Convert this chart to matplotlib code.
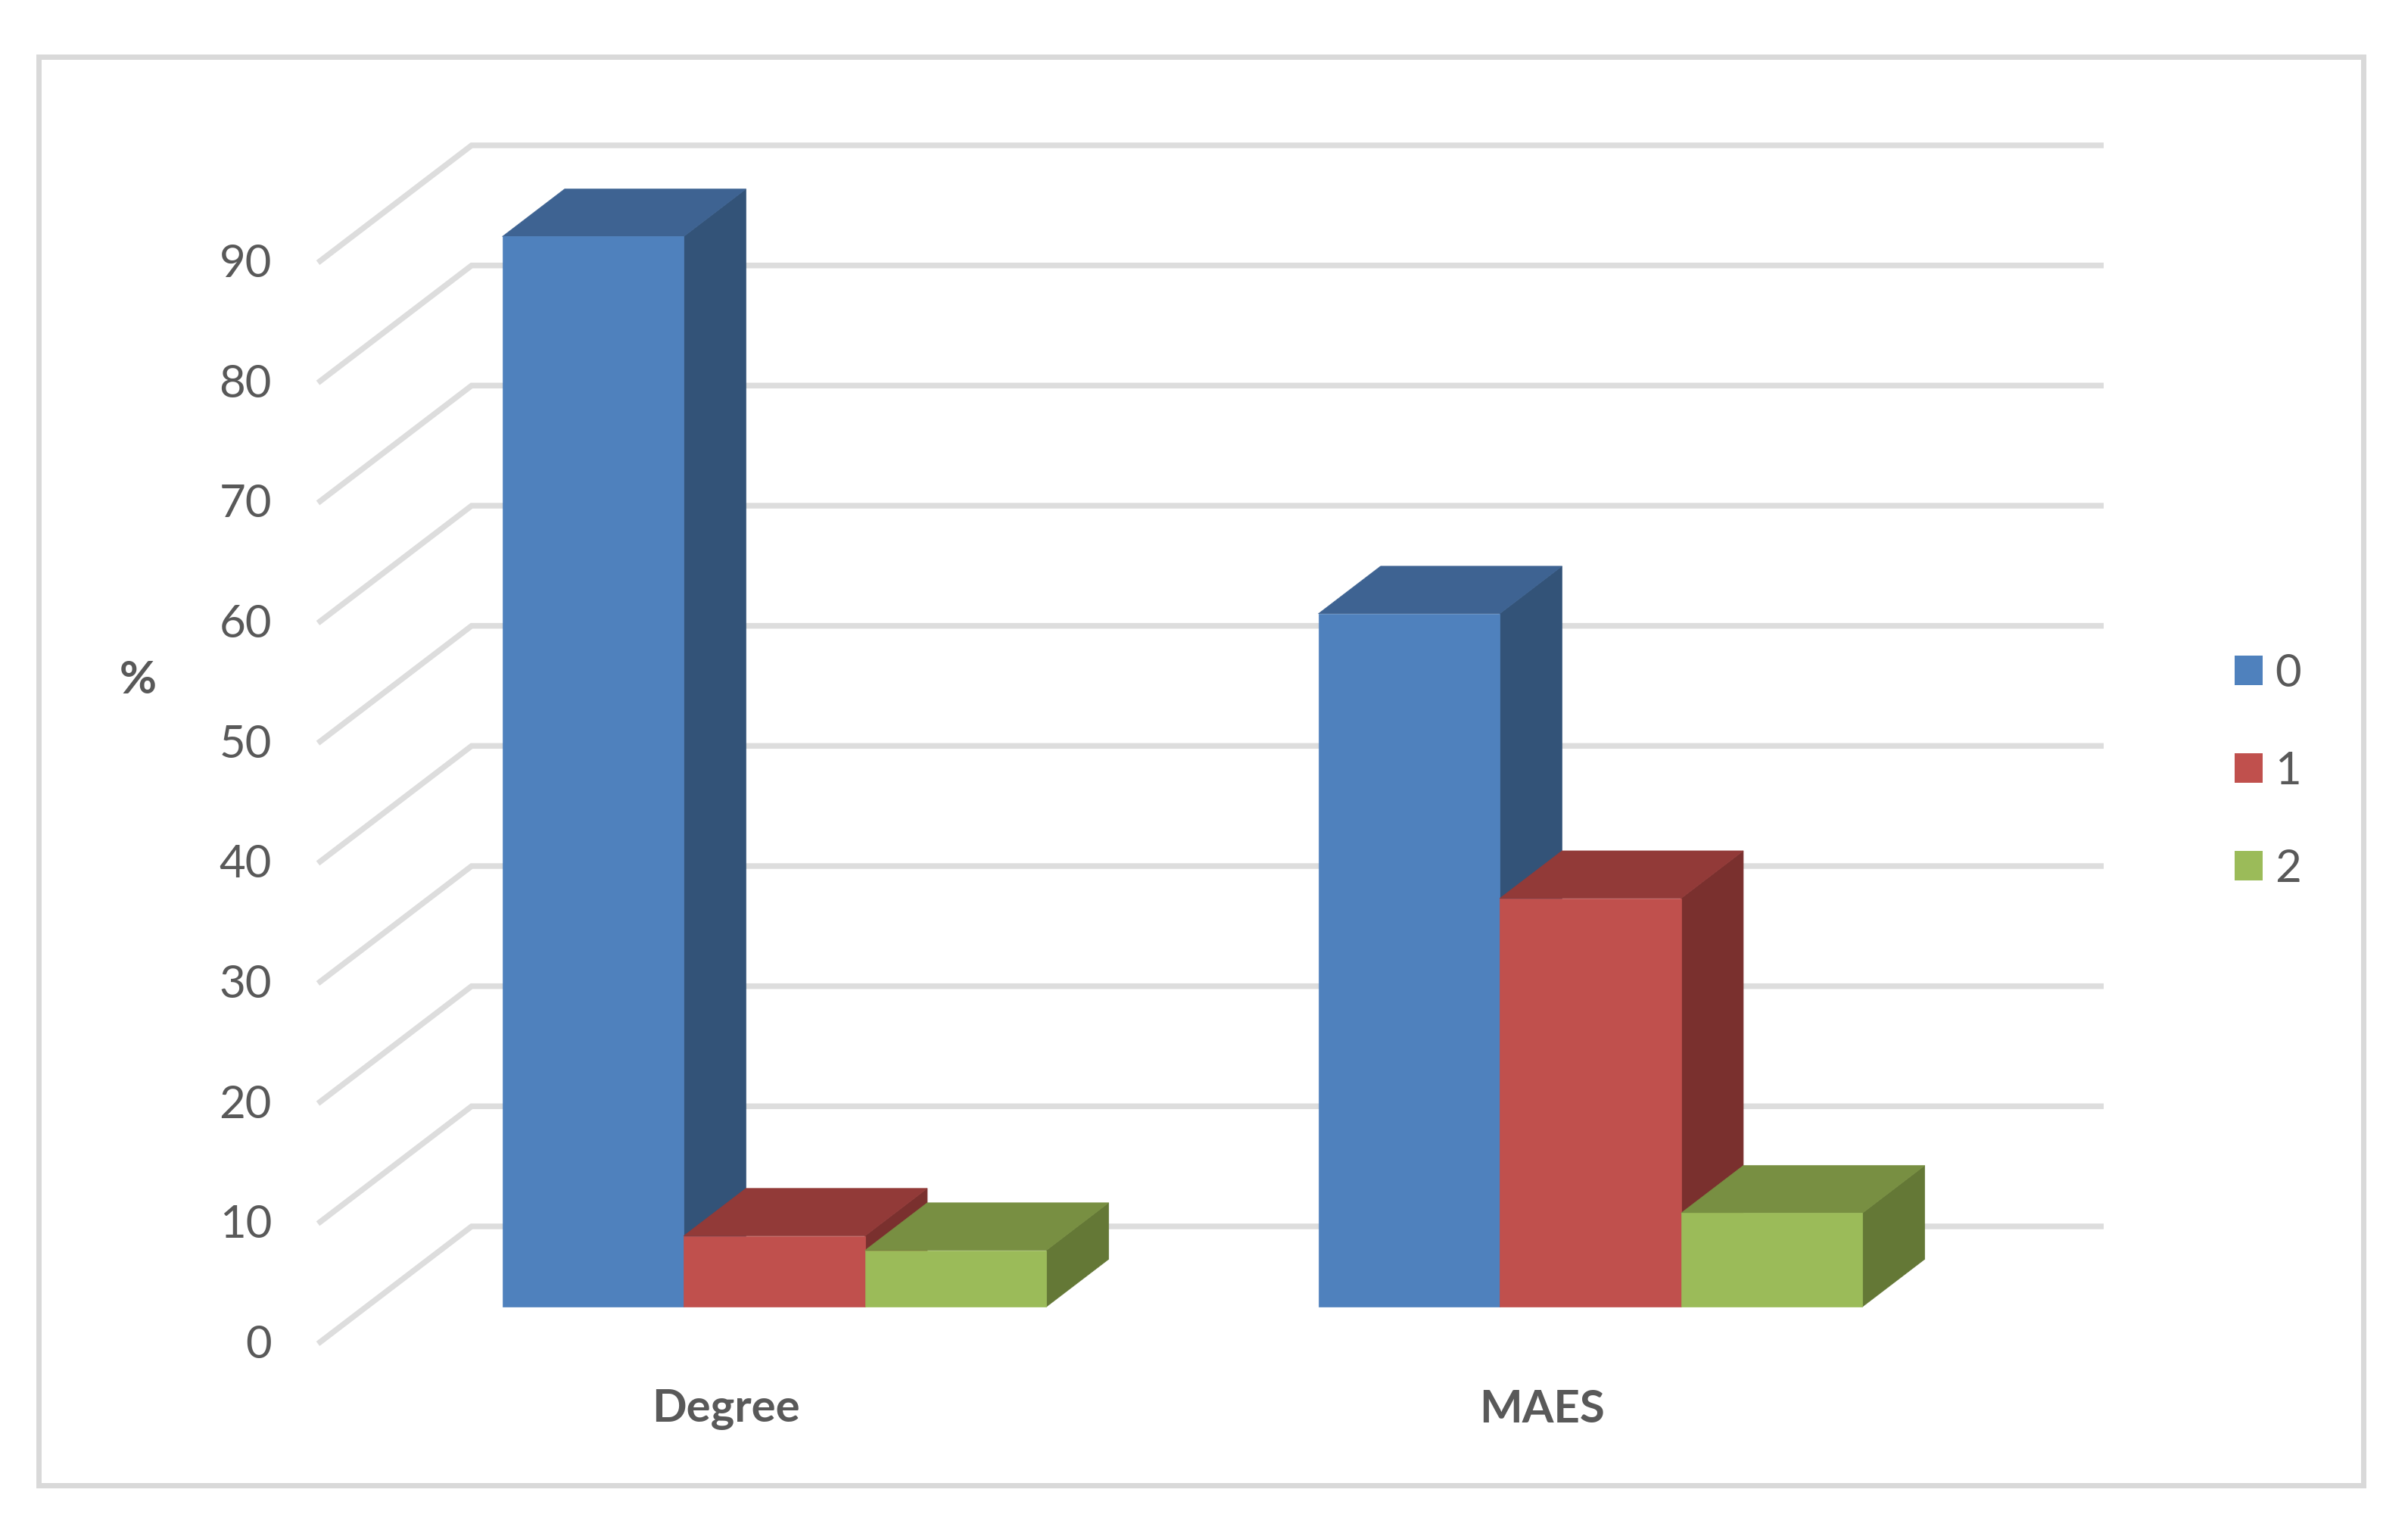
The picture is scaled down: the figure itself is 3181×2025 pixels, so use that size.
import matplotlib
matplotlib.use("Agg")
import matplotlib.pyplot as plt
from matplotlib.patches import Patch, Rectangle
from matplotlib.transforms import ScaledTranslation

plt.rcParams['font.family'] = ['Lato', 'DejaVu Sans']

# ---- data ----
categories = ['Degree', 'MAES']
series_names = ['0', '1', '2']
values_0 = [89.1, 57.7]
values_1 = [5.9, 34.0]
values_2 = [4.7, 7.8]
y_ticks = [0, 10, 20, 30, 40, 50, 60, 70, 80, 90]
y_label = '%'

# ---- style ----
face = ['#4F81BD', '#C0504D', '#9BBB59']
top = ['#3E6392', '#923A38', '#788F42']
side = ['#335378', '#7A302E', '#647836']
GRID = '#DDDDDD'
TEXT = '#595959'
W, H, DPI = 3181, 2025, 100
px = 72 / DPI  # one pixel in points

fig = plt.figure(figsize=(W / DPI, H / DPI), dpi=DPI, facecolor='white')
L, R, B, T = 420, 2576, 1775, 347
ax = fig.add_axes([L / W, 1 - B / H, (R - L) / W, (B - T) / H])
ax.set_xlim(0, 2)
ax.set_ylim(0, 90)
ax.patch.set_visible(False)
for s in ax.spines.values():
    s.set_visible(False)

# 3-D depth: the whole floor runs this far in data units, front to back
DX, DY = 203 / 1078, 155 / 158.67
DY *= 10
BAR_D0, BAR_D1 = 0.315, 0.72
BAR_W = 1 / 4.5


def proj(x, y, d):
    return x + DX * d, y + DY * d


# gridlines: left wall and back wall
for v in y_ticks:
    x0, y0 = proj(0, v, 0)
    x1, y1 = proj(0, v, 1)
    x2, y2 = proj(2, v, 1)
    ax.plot([x0, x1, x2], [y0, y1, y2], color=GRID, lw=7.5 * px, clip_on=False,
            solid_capstyle='butt', solid_joinstyle='miter', zorder=1)


def box(x, h, i, z):
    corners = lambda pts: list(zip(*[proj(*p) for p in pts]))
    xr = x + BAR_W
    a, b = BAR_D0, BAR_D1
    fx, fy = corners([(x, 0, a), (xr, 0, a), (xr, h, a), (x, h, a)])
    sx, sy = corners([(xr, 0, a), (xr, 0, b), (xr, h, b), (xr, h, a)])
    tx, ty = corners([(x, h, a), (xr, h, a), (xr, h, b), (x, h, b)])
    ax.fill(sx, sy, color=side[i], lw=0.5, zorder=z, clip_on=False)
    ax.fill(tx, ty, color=top[i], lw=0.5, zorder=z, clip_on=False)
    ax.fill(fx, fy, color=face[i], lw=0.5, zorder=z + 0.1, clip_on=False)


for c in range(len(categories)):
    group_left = c + 0.5 - 1.5 * BAR_W
    for i, vals in enumerate([values_0, values_1, values_2]):
        box(group_left + i * BAR_W, vals[c], i, 2 + i)

# axes text
FS = 60 * px
ax.set_yticks(y_ticks)
ax.set_yticklabels([str(v) for v in y_ticks])
ax.set_xticks([0.5, 1.5])
ax.set_xticklabels(categories, fontweight='bold')
ax.tick_params(axis='y', length=0, pad=61 * px, labelsize=FS, labelcolor=TEXT)
ax.tick_params(axis='x', length=0, pad=60 * px, labelsize=FS, labelcolor=TEXT)
shift_up = ScaledTranslation(0, 3 / DPI, fig.dpi_scale_trans)
for lab in ax.get_yticklabels():
    lab.set_transform(lab.get_transform() + shift_up)
ax.set_ylabel(y_label, rotation=0, fontsize=FS, fontweight='bold', color=TEXT,
              ha='center', va='center')
ax.yaxis.set_label_coords((182 - L) / (R - L), (B - 899) / (B - T))

# legend
handles = [Patch(color=c, lw=0) for c in face]
leg = ax.legend(handles, series_names, loc='center left', frameon=False, fontsize=FS,
                labelcolor=TEXT, handlelength=0.62, handleheight=0.62, handletextpad=0.27,
                labelspacing=1.25, borderpad=0, borderaxespad=0,
                bbox_to_anchor=(2952 / W, 1 - 1019 / H), bbox_transform=fig.transFigure)

# outer frame
fig.add_artist(Rectangle((51 / W, 1 - 1962 / H), (3122 - 51) / W, (1962 - 75) / H,
                         transform=fig.transFigure, fill=False, ec='#D9D9D9', lw=7 * px))

fig.savefig('out.png', dpi=DPI, facecolor='white')
